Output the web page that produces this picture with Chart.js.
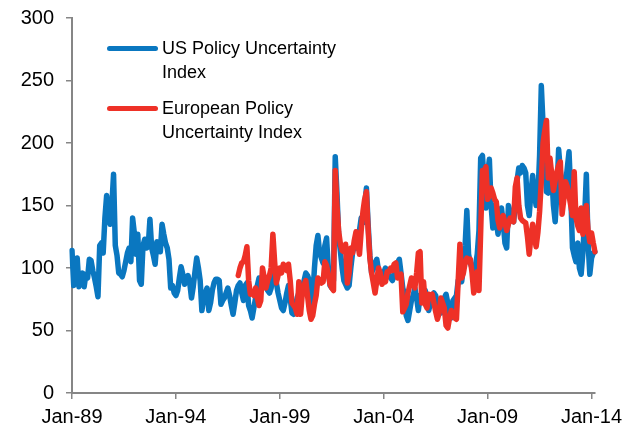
<!DOCTYPE html>
<html>
<head>
<meta charset="utf-8">
<script src="https://cdn.jsdelivr.net/npm/chart.js@4"></script>
<style>
  html, body { margin: 0; padding: 0; background: #ffffff; }
  #wrap { position: relative; width: 636px; height: 434px; }
  canvas { position: absolute; left: 0; top: 0; }
  .lg-line { position: absolute; height: 5px; border-radius: 3px; }
  .lg-text { position: absolute; font-family: "Liberation Sans", Arial, sans-serif; font-size: 18px; line-height: 24px; color: #000; white-space: nowrap; }
</style>
</head>
<body>
<div id="wrap">
  <canvas id="c" width="636" height="434"></canvas>
  <div class="lg-line" style="left:107px; top:46px; width:51px; background:#0a77c0;"></div>
  <div class="lg-text" style="left:162px; top:36px;">US Policy Uncertainty<br>Index</div>
  <div class="lg-line" style="left:107px; top:106px; width:51px; background:#ee3127;"></div>
  <div class="lg-text" style="left:162px; top:96px;">European Policy<br>Uncertainty Index</div>
</div>
<script>
// ---- data (monthly, Jan-89 .. Mar-14) ----
const seriesNames = ["US Policy Uncertainty Index", "European Policy Uncertainty Index"];
const xTickLabels = ["Jan-89", "Jan-94", "Jan-99", "Jan-04", "Jan-09", "Jan-14"];
const yTicks = [0, 50, 100, 150, 200, 250, 300];

const usIndex = [
  114, 86, 100, 108, 85, 92, 96, 85, 95, 92, 107, 106,          // 1989
  98, 92, 85, 77, 118, 120, 112, 140, 158, 142, 135, 150,       // 1990
  175, 118, 110, 96, 95, 93, 98, 105, 112, 116, 105, 140,       // 1991
  128, 111, 127, 90, 87, 118, 123, 116, 117, 139, 116, 110,     // 1992
  103, 121, 116, 113, 135, 127, 120, 116, 107, 84, 86, 80,      // 1993
  78, 82, 92, 101, 95, 87, 90, 94, 88, 76, 85, 97,              // 1994
  108, 100, 90, 66, 75, 80, 84, 66, 72, 82, 88, 91,             // 1995
  91, 90, 71, 74, 76, 80, 84, 78, 70, 63, 72, 82,               // 1996
  86, 88, 80, 74, 86, 88, 70, 66, 60, 68, 76, 86,               // 1997
  92, 88, 84, 90, 86, 82, 80, 84, 98, 90, 88, 80,               // 1998
  74, 68, 66, 72, 80, 86, 76, 64, 63, 70, 76, 80,               // 1999
  87, 84, 90, 96, 94, 90, 68, 76, 100, 118, 126, 112,           // 2000
  108, 104, 118, 124, 100, 86, 84, 90, 189, 160, 125, 113,      // 2001
  100, 90, 87, 84, 86, 100, 112, 118, 116, 122, 130, 140,       // 2002
  136, 150, 164, 135, 110, 96, 100, 104, 107, 98, 92, 90,       // 2003
  96, 100, 98, 95, 92, 90, 94, 100, 104, 107, 96, 84,           // 2004
  79, 62, 58, 66, 74, 78, 84, 76, 66, 78, 74, 76,               // 2005
  82, 74, 66, 72, 78, 80, 78, 70, 74, 64, 68, 76,               // 2006
  79, 72, 63, 60, 74, 76, 78, 90, 92, 89, 100, 118,             // 2007
  146, 111, 104, 100, 96, 102, 111, 130, 188, 190, 170, 148,    // 2008
  175, 187, 150, 132, 150, 138, 127, 138, 148, 136, 120, 116,   // 2009
  150, 145, 138, 137, 150, 170, 180, 176, 182, 180, 176, 150,   // 2010
  142, 160, 174, 160, 150, 156, 190, 246, 215, 185, 161, 160,   // 2011
  182, 175, 150, 137, 160, 195, 178, 164, 162, 168, 180, 193,   // 2012
  160, 116, 110, 105, 120, 100, 95, 112, 140, 175, 120, 95,     // 2013
  108, 112, 113                                                 // 2014
];

const euIndex = [
  // Jan-89 .. Dec-96: not available
  null, null, null, null, null, null, null, null, null, null, null, null,
  null, null, null, null, null, null, null, null, null, null, null, null,
  null, null, null, null, null, null, null, null, null, null, null, null,
  null, null, null, null, null, null, null, null, null, null, null, null,
  null, null, null, null, null, null, null, null, null, null, null, null,
  null, null, null, null, null, null, null, null, null, null, null, null,
  null, null, null, null, null, null, null, null, null, null, null, null,
  null, null, null, null, null, null, null, null, null, null, null, null,
  94, 100, 104, 105, 110, 117, 90, 79, 80, 78, 84, 76,          // 1997
  70, 74, 100, 92, 84, 90, 94, 100, 127, 105, 88, 94,           // 1998
  100, 96, 103, 100, 98, 103, 90, 72, 70, 68, 63, 89,           // 1999
  63, 80, 86, 90, 78, 66, 59, 62, 71, 78, 92, 90,               // 2000
  88, 89, 105, 102, 95, 87, 84, 82, 178, 150, 129, 119,         // 2001
  114, 113, 119, 88, 96, 116, 112, 122, 129, 120, 111, 130,     // 2002
  145, 155, 161, 130, 108, 96, 88, 80, 90, 100, 96, 87,         // 2003
  90, 89, 97, 97, 100, 98, 103, 104, 92, 94, 95, 65,            // 2004
  68, 71, 80, 86, 92, 90, 84, 96, 112, 113, 72, 89,             // 2005
  71, 68, 79, 78, 79, 72, 65, 59, 64, 76, 72, 68,               // 2006
  54, 52, 60, 66, 62, 60, 59, 90, 119, 92, 96, 104,             // 2007
  108, 105, 107, 96, 80, 86, 97, 82, 130, 178, 176, 181,        // 2008
  155, 158, 164, 160, 155, 153, 138, 132, 138, 142, 136, 130,   // 2009
  135, 140, 138, 137, 165, 172, 150, 140, 138, 137, 136, 125,   // 2010
  111, 125, 135, 125, 117, 128, 145, 170, 200, 210, 218, 172,   // 2011
  188, 175, 162, 170, 177, 182, 185, 143, 155, 169, 165, 158,   // 2012
  150, 142, 177, 140, 134, 130, 148, 127, 135, 150, 130, 121,   // 2013
  128, 120, 113                                                 // 2014
];

// month categories built from the start date
const monthNames = ["Jan","Feb","Mar","Apr","May","Jun","Jul","Aug","Sep","Oct","Nov","Dec"];
const categories = usIndex.map((_, i) => {
  const y = (89 + Math.floor(i / 12)) % 100;
  return monthNames[i % 12] + "-" + String(y).padStart(2, "0");
});

const axisGrey = "#868686";
const fontFamily = "'Liberation Sans', Arial, sans-serif";

new Chart(document.getElementById("c"), {
  type: "line",
  data: {
    labels: categories,
    datasets: [
      {
        label: seriesNames[0],
        data: usIndex,
        borderColor: "#0a77c0",
        borderWidth: 5.5,
        pointRadius: 0,
        tension: 0,
        borderJoinStyle: "round",
        borderCapStyle: "round",
        order: 1
      },
      {
        label: seriesNames[1],
        data: euIndex,
        borderColor: "#ee3127",
        borderWidth: 5.5,
        pointRadius: 0,
        tension: 0,
        spanGaps: false,
        borderJoinStyle: "round",
        borderCapStyle: "round",
        order: 0
      }
    ]
  },
  options: {
    responsive: false,
    animation: false,
    devicePixelRatio: 1,
    layout: { padding: { left: 0, right: 41, top: 13, bottom: 0 } },
    plugins: { legend: { display: false }, tooltip: { enabled: false } },
    scales: {
      x: {
        type: "category",
        offset: false,
        border: { color: axisGrey, width: 2 },
        grid: { drawOnChartArea: false, color: axisGrey, lineWidth: 1.5, tickLength: 6 },
        ticks: {
          autoSkip: false,
          maxRotation: 0,
          minRotation: 0,
          padding: 6,
          color: "#000",
          font: { family: fontFamily, size: 20 },
          callback: (val, idx) => (idx % 60 === 0 ? xTickLabels[idx / 60] : null)
        },
        afterFit: (s) => { s.height = 41; }
      },
      y: {
        min: yTicks[0],
        max: yTicks[yTicks.length - 1],
        border: { color: axisGrey, width: 2 },
        grid: { drawOnChartArea: false, color: axisGrey, lineWidth: 1.5, tickLength: 6 },
        ticks: {
          stepSize: 50,
          padding: 12,
          color: "#000",
          font: { family: fontFamily, size: 20, lineHeight: 0.6 }
        },
        afterFit: (s) => { s.width = 72; }
      }
    }
  }
});
</script>
</body>
</html>
